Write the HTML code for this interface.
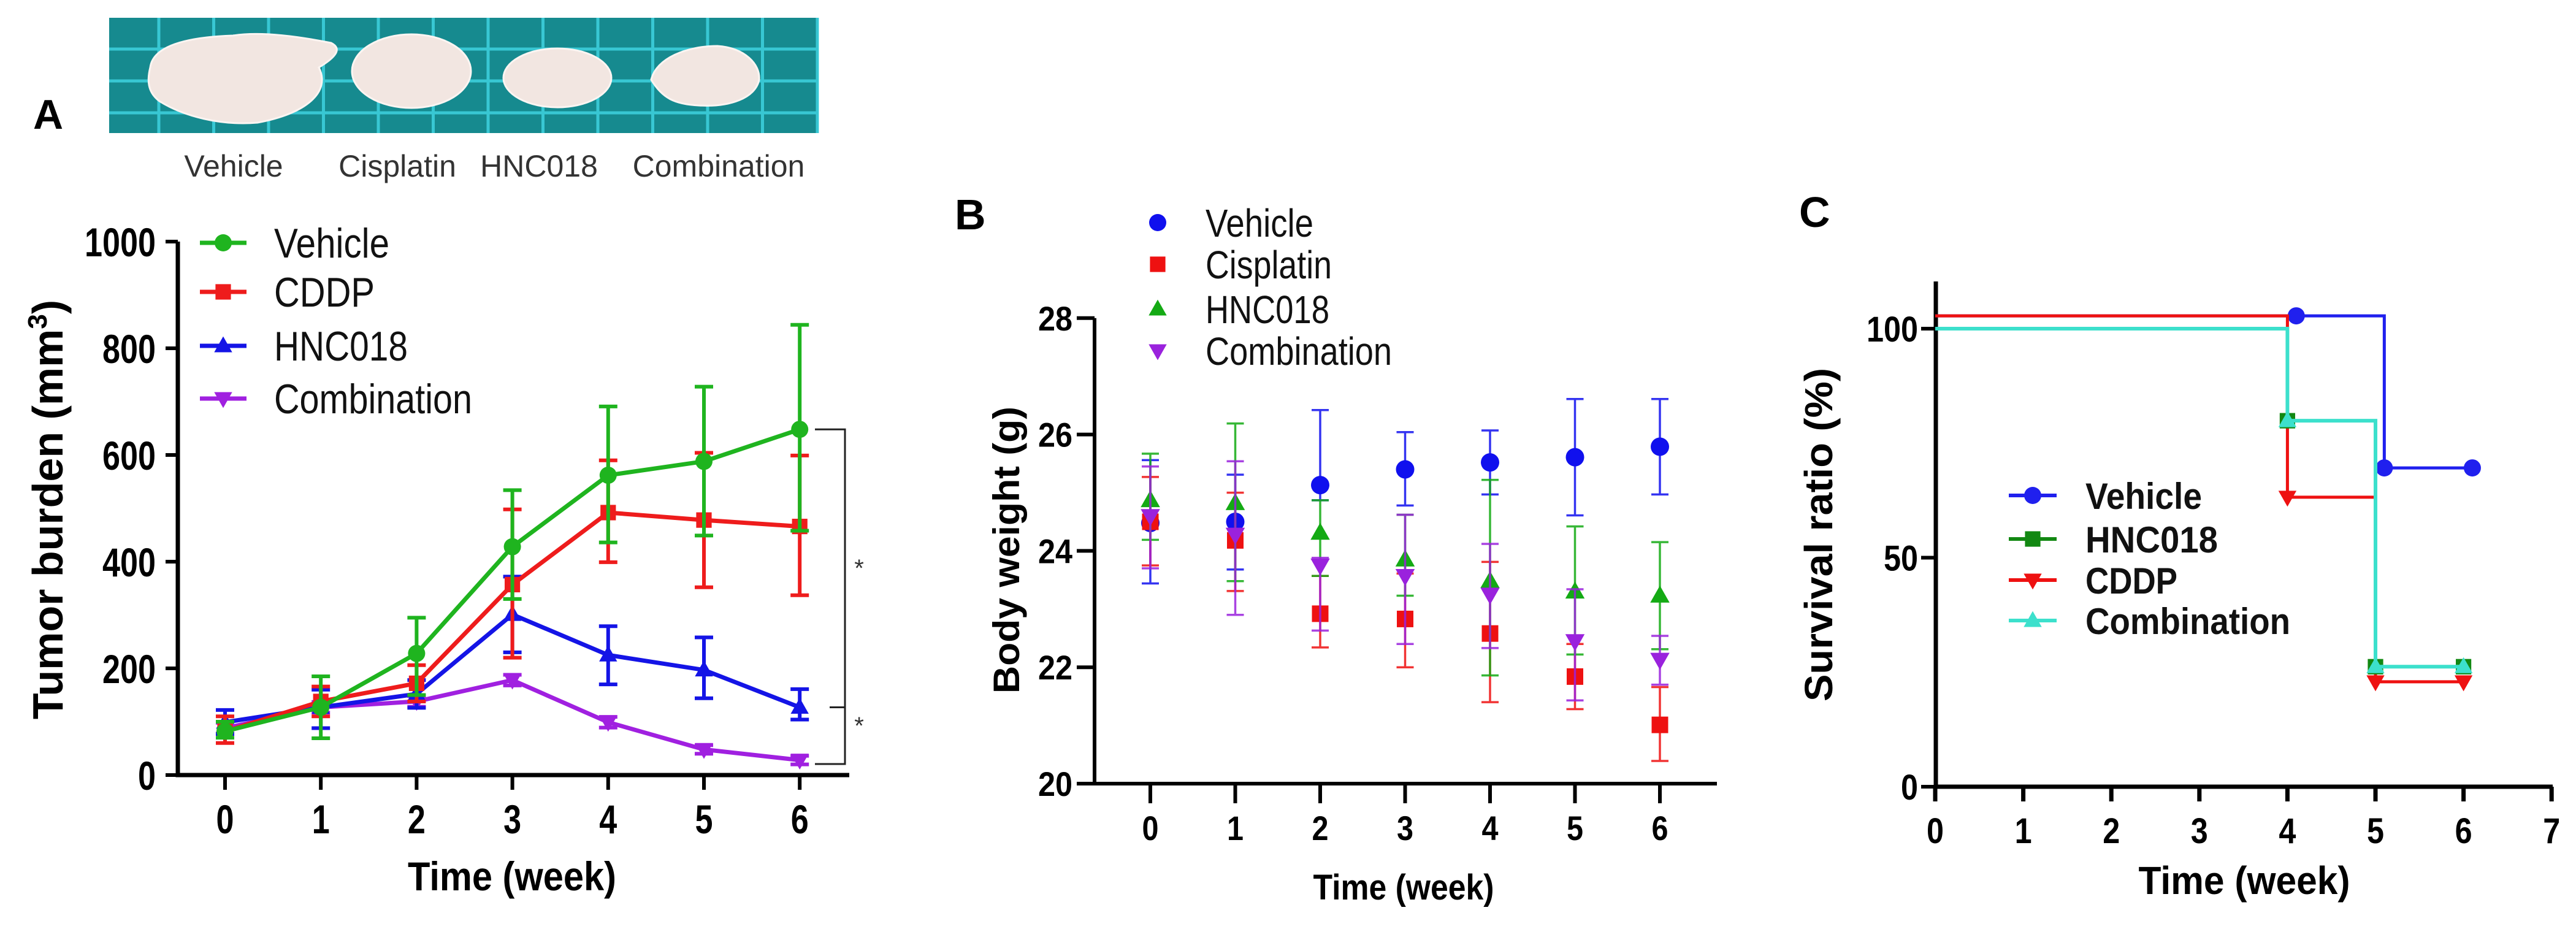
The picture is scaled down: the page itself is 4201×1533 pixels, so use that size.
<!DOCTYPE html>
<html><head><meta charset="utf-8"><style>
html,body{margin:0;padding:0;background:#fff;}
svg{display:block;}
.nb{font-family:"Liberation Sans Narrow","Liberation Sans",sans-serif;font-weight:bold;font-stretch:condensed;}
.nr{font-family:"Liberation Sans Narrow","Liberation Sans",sans-serif;font-stretch:condensed;}
.sb{font-family:"Liberation Sans",sans-serif;font-weight:bold;}
.sr{font-family:"Liberation Sans",sans-serif;}
</style></head><body>
<svg id="fig" width="4201" height="1533" viewBox="0 0 4201 1533" xmlns="http://www.w3.org/2000/svg">
<g id="photo">
<rect x="178" y="29" width="1157" height="188" fill="#168a8f"/>
<g id="grid" stroke="#3fd2e0" stroke-width="5" opacity="0.85"></g>
<g fill="#f2e6e1" stroke="#fbf5f2" stroke-width="3">
<path d="M245,110 C250,70 320,60 380,58 C430,50 500,62 540,70 C560,80 545,95 520,110 C540,150 500,185 420,200 C360,205 300,190 260,165 C240,150 240,130 245,110 Z"/>
<ellipse cx="671" cy="116" rx="97" ry="60"/>
<ellipse cx="909" cy="127" rx="88" ry="48"/>
<path d="M1062,130 C1070,95 1120,75 1170,75 C1215,78 1240,105 1238,130 C1232,160 1190,175 1140,172 C1100,170 1080,160 1062,130 Z"/>
</g>
</g>
<g id="photo-labels" class="sr" font-size="50" fill="#333" text-anchor="middle">
<text x="381" y="288">Vehicle</text>
<text x="648" y="288">Cisplatin</text>
<text x="879" y="288">HNC018</text>
<text x="1172" y="288">Combination</text>
</g>
<text x="54" y="210" class="sb" font-size="68">A</text>
<text x="1557" y="374" class="sb" font-size="70">B</text>
<text x="2934" y="370" class="sb" font-size="70">C</text>
<g id="pa"></g>
<g id="pb"></g>
<g id="pc"></g>
</svg>
<script>
// ---------- Panel A data ----------
const weeksA = [0,1,2,3,4,5,6];
const yTicksA = [0,200,400,600,800,1000];
const vehA = [82,127,228,428,562,588,648];
const vehAlo = [70,69,150,330,436,449,458];
const vehAhi = [100,185,295,534,691,728,844];
const cddpA = [82,138,172,357,492,478,466];
const cddpAlo = [60,110,138,220,399,352,337];
const cddpAhi = [110,166,206,498,590,604,599];
const hncA = [99,127,152,301,225,197,127];
const hncAlo = [77,88,126,230,170,144,104];
const hncAhi = [122,160,178,372,279,258,161];
const combA = [88,127,138,178,99,48,28];
const combAlo = [78,117,128,168,89,40,20];
const combAhi = [98,137,148,188,109,56,36];
// ---------- Panel B data ----------
const weeksB = [0,1,2,3,4,5,6];
const yTicksB = [20,22,24,26,28];
const vehB = [24.48,24.5,25.13,25.4,25.52,25.61,25.79];
const vehBlo = [23.44,23.68,24.87,24.78,24.97,24.61,24.97];
const vehBhi = [25.56,25.31,26.42,26.04,26.07,26.61,26.61];
const cisB = [24.5,24.18,22.92,22.83,22.58,21.84,21.01];
const cisBlo = [23.75,23.31,22.34,22.0,21.4,21.28,20.39];
const cisBhi = [25.27,25.0,23.57,23.61,23.81,22.4,21.66];
const hncB = [24.87,24.82,24.31,23.85,23.48,23.3,23.23];
const hncBlo = [24.19,23.48,23.57,23.23,21.86,22.22,22.31];
const hncBhi = [25.67,26.19,24.87,24.62,25.22,24.42,24.15];
const combB = [24.6,24.28,23.75,23.57,23.25,22.45,22.13];
const combBlo = [23.7,22.9,22.63,22.4,22.33,21.43,21.7];
const combBhi = [25.45,25.54,23.88,24.62,24.12,23.34,22.54];
// ---------- Panel C data ----------
const xTicksC = [0,1,2,3,4,5,6,7];
const yTicksC = [0,50,100];
const vehCt = [0,4.1,5.1,6.1];
const vehCv = [102.8,102.8,69.6,69.6];
const hncCt = [0,4,5,6];
const hncCv = [100,79.9,26.2,26.2];
const cddpCt = [0,4,5,6];
const cddpCv = [102.8,63.2,22.9,22.9];
const combCt = [0,4,5,6];
const combCv = [100,79.9,26.2,26.2];

const NS = "http://www.w3.org/2000/svg";
function mk(parent, tag, attrs){
  const e = document.createElementNS(NS, tag);
  for (const k in attrs) e.setAttribute(k, attrs[k]);
  parent.appendChild(e);
  return e;
}
function marker(g, shape, cx, cy, r, color){
  let e;
  if (shape==='circle') e = mk(g,'circle',{cx:cx,cy:cy,r:r,fill:color});
  else if (shape==='square') e = mk(g,'rect',{x:cx-r*0.9,y:cy-r*0.9,width:r*1.8,height:r*1.8,fill:color});
  else if (shape==='up') e = mk(g,'polygon',{points:`${cx},${cy-r*1.1} ${cx-r*1.05},${cy+r*0.75} ${cx+r*1.05},${cy+r*0.75}`,fill:color});
  else e = mk(g,'polygon',{points:`${cx},${cy+r*1.1} ${cx-r*1.05},${cy-r*0.75} ${cx+r*1.05},${cy-r*0.75}`,fill:color});
  return e;
}
function fitLen(t, perChar){
  const n = String(t.textContent).length;
  t.setAttribute('textLength', n*perChar);
  t.setAttribute('lengthAdjust','spacingAndGlyphs');
}

// photo grid
const grid = document.getElementById('grid');
for (let x = 259; x < 1335; x += 89.5){
  const l = mk(grid,'line',{x1:x,y1:29,x2:x,y2:217});
  
  
}
for (let y = 80; y < 217; y += 52){
  const l = mk(grid,'line',{x1:178,y1:y,x2:1335,y2:y});
  
  
}

// ================= Panel A =================
(function(){
  const g = document.getElementById('pa');
  const xA = v => 367 + v*156.2;
  const yA = v => 1264 - v*0.87;
  const ax = mk(g,'path',{d:`M290,${yA(1000)} V1264 H1385`,stroke:'#000','stroke-width':7,fill:'none'});
  
  
  yTicksA.forEach(t=>{
    const l = mk(g,'line',{x1:270,x2:290,y1:yA(t),y2:yA(t),stroke:'#000','stroke-width':6});
    
    
    const tx = mk(g,'text',{x:254,y:yA(t)+24,'text-anchor':'end','font-size':66,class:'nb'});
    tx.textContent = t;
    fitLen(tx,29);
    
    
  });
  weeksA.forEach(w=>{
    const l = mk(g,'line',{x1:xA(w),x2:xA(w),y1:1264,y2:1288,stroke:'#000','stroke-width':6});
    
    
    const tx = mk(g,'text',{x:xA(w),y:1359,'text-anchor':'middle','font-size':66,class:'nb'});
    tx.textContent = w;
    fitLen(tx,29);
    
    
  });
  const xt = mk(g,'text',{x:835,y:1452,'text-anchor':'middle','font-size':66,class:'nb',textLength:340,lengthAdjust:'spacingAndGlyphs'});
  xt.textContent = 'Time (week)';
  
  
  const yt = mk(g,'text',{x:0,y:0,'text-anchor':'middle','font-size':70,class:'nb',transform:'translate(102,831) rotate(-90)'});
  yt.innerHTML = 'Tumor burden (mm<tspan dy="-26" font-size="44">3</tspan><tspan dy="26">)</tspan>';
  
  

  const series = [
    {n:'combination',c:'#a020e0',s:'down',v:combA,lo:combAlo,hi:combAhi},
    {n:'hnc018',c:'#1414e6',s:'up',v:hncA,lo:hncAlo,hi:hncAhi},
    {n:'cddp',c:'#ee1c1c',s:'square',v:cddpA,lo:cddpAlo,hi:cddpAhi},
    {n:'vehicle',c:'#1fb41f',s:'circle',v:vehA,lo:vehAlo,hi:vehAhi}
  ];
  series.forEach(sr=>{
    const sg = mk(g,'g',{});
    
    
    sr.v.forEach((v,i)=>{
      const x = xA(weeksA[i]);
      const e = mk(sg,'path',{d:`M${x},${yA(sr.lo[i])} V${yA(sr.hi[i])} M${x-15},${yA(sr.lo[i])} h30 M${x-15},${yA(sr.hi[i])} h30`,stroke:sr.c,'stroke-width':6,fill:'none'});
      
      
    });
    const pts = sr.v.map((v,i)=>`${xA(weeksA[i])},${yA(v)}`).join(' ');
    const pl = mk(sg,'polyline',{points:pts,stroke:sr.c,'stroke-width':7,fill:'none'});
    
    
    sr.v.forEach((v,i)=>{
      const m = marker(sg,sr.s,xA(weeksA[i]),yA(v),14,sr.c);
      
      
    });
  });
  const leg = [['vehicle','#1fb41f','circle','Vehicle',396,188],['cddp','#ee1c1c','square','CDDP',476,164],['hnc018','#1414e6','up','HNC018',564,218],['combination','#a020e0','down','Combination',650,323]];
  leg.forEach(l=>{
    const lg = mk(g,'g',{});
    
    
    mk(lg,'line',{x1:326,x2:402,y1:l[4],y2:l[4],stroke:l[1],'stroke-width':7});
    marker(lg,l[2],364,l[4],14,l[1]);
    const t = mk(lg,'text',{x:447,y:l[4]+24,'font-size':68,class:'nr',fill:'#111',textLength:l[5],lengthAdjust:'spacingAndGlyphs'});
    t.textContent = l[3];
  });
  const br = mk(g,'path',{d:`M1329,${yA(vehA[6])} H1378 V1246 H1329 M1353,${yA(hncA[6])} H1378`,stroke:'#222','stroke-width':3,fill:'none'});
  
  
  [[1401,940],[1401,1197]].forEach(p=>{
    const s = mk(g,'text',{x:p[0],y:p[1],'font-size':40,class:'sr','text-anchor':'middle',fill:'#333'});
    s.textContent='*';
    
    
  });
})();

// ================= Panel B =================
(function(){
  const g = document.getElementById('pb');
  const xB = v => 1876 + v*138.5;
  const yB = v => 1278 - (v-20)*94.9;
  const ax = mk(g,'path',{d:`M1785,${yB(28)} V1278 H2800`,stroke:'#000','stroke-width':6,fill:'none'});
  
  
  yTicksB.forEach(t=>{
    const l = mk(g,'line',{x1:1756,x2:1785,y1:yB(t),y2:yB(t),stroke:'#000','stroke-width':6});
    
    
    const tx = mk(g,'text',{x:1749,y:yB(t)+20,'text-anchor':'end','font-size':56,class:'nb'});
    tx.textContent = t;
    fitLen(tx,28);
    
    
  });
  weeksB.forEach(w=>{
    const l = mk(g,'line',{x1:xB(w),x2:xB(w),y1:1278,y2:1310,stroke:'#000','stroke-width':6});
    
    
    const tx = mk(g,'text',{x:xB(w),y:1370,'text-anchor':'middle','font-size':56,class:'nb'});
    tx.textContent = w;
    fitLen(tx,27);
    
    
  });
  const xt = mk(g,'text',{x:2289,y:1467,'text-anchor':'middle','font-size':58,class:'nb',textLength:295,lengthAdjust:'spacingAndGlyphs'});
  xt.textContent = 'Time (week)';
  
  
  const yt = mk(g,'text',{x:0,y:0,'text-anchor':'middle','font-size':60,class:'nb',textLength:468,lengthAdjust:'spacingAndGlyphs',transform:'translate(1662,897) rotate(-90)'});
  yt.textContent = 'Body weight (g)';
  
  

  const series = [
    {n:'vehicle',c:'#1010ee',s:'circle',v:vehB,lo:vehBlo,hi:vehBhi},
    {n:'cisplatin',c:'#ee1111',s:'square',v:cisB,lo:cisBlo,hi:cisBhi},
    {n:'hnc018',c:'#14aa14',s:'up',v:hncB,lo:hncBlo,hi:hncBhi},
    {n:'combination',c:'#9a22dd',s:'down',v:combB,lo:combBlo,hi:combBhi}
  ];
  series.forEach(sr=>{
    const sg = mk(g,'g',{});
    
    
    sr.v.forEach((v,i)=>{
      const x = xB(weeksB[i]);
      const e = mk(sg,'path',{d:`M${x},${yB(sr.lo[i])} V${yB(sr.hi[i])} M${x-14},${yB(sr.lo[i])} h28 M${x-14},${yB(sr.hi[i])} h28`,stroke:sr.c,'stroke-width':3.5,fill:'none',opacity:0.85});
      
      
      const m = marker(sg,sr.s,x,yB(v),15,sr.c);
      
      
    });
  });
  const leg = [['vehicle','#1010ee','circle','Vehicle',363,176],['cisplatin','#ee1111','square','Cisplatin',431,206],['hnc018','#14aa14','up','HNC018',504,202],['combination','#9a22dd','down','Combination',572,304]];
  leg.forEach(l=>{
    const lg = mk(g,'g',{});
    
    
    marker(lg,l[2],1888,l[4],14,l[1]);
    const t = mk(lg,'text',{x:1966,y:l[4]+23,'font-size':64,class:'nr',fill:'#111',textLength:l[5],lengthAdjust:'spacingAndGlyphs'});
    t.textContent = l[3];
  });
})();

// ================= Panel C =================
(function(){
  const g = document.getElementById('pc');
  const xC = v => 3156 + v*143.6;
  const yC = v => 1283 - v*7.47;
  const ax = mk(g,'path',{d:`M3157,459 V1283 H4163`,stroke:'#000','stroke-width':7,fill:'none'});
  
  
  yTicksC.forEach(t=>{
    const l = mk(g,'line',{x1:3133,x2:3157,y1:yC(t),y2:yC(t),stroke:'#000','stroke-width':6});
    
    
    const tx = mk(g,'text',{x:3128,y:yC(t)+21,'text-anchor':'end','font-size':58,class:'nb'});
    tx.textContent = t;
    fitLen(tx,28);
    
    
  });
  xTicksC.forEach(w=>{
    const l = mk(g,'line',{x1:xC(w),x2:xC(w),y1:1283,y2:1307,stroke:'#000','stroke-width':7});
    
    
    const tx = mk(g,'text',{x:xC(w),y:1375,'text-anchor':'middle','font-size':58,class:'nb'});
    tx.textContent = w;
    fitLen(tx,28);
    
    
  });
  const xt = mk(g,'text',{x:3660,y:1458,'text-anchor':'middle','font-size':64,class:'nb',textLength:345,lengthAdjust:'spacingAndGlyphs'});
  xt.textContent = 'Time (week)';
  
  
  const yt = mk(g,'text',{x:0,y:0,'text-anchor':'middle','font-size':64,class:'sb',textLength:544,lengthAdjust:'spacingAndGlyphs',transform:'translate(2988,872) rotate(-90)'});
  yt.textContent = 'Survival ratio (%)';
  
  

  function stepPath(ts, vs){
    let d = `M${xC(ts[0])},${yC(vs[0])}`;
    for (let i=1;i<ts.length;i++){
      d += ` H${xC(ts[i])} V${yC(vs[i])}`;
    }
    return d;
  }
  const series = [
    {n:'vehicle',c:'#2020ee',s:'circle',t:vehCt,v:vehCv},
    {n:'cddp',c:'#ee1111',s:'down',t:cddpCt,v:cddpCv},
    {n:'hnc018',c:'#128812',s:'square',t:hncCt,v:hncCv},
    {n:'combination',c:'#3ce0cc',s:'up',t:combCt,v:combCv}
  ];
  series.forEach(sr=>{
    const sg = mk(g,'g',{});
    
    
    const p = mk(sg,'path',{d:stepPath(sr.t,sr.v),stroke:sr.c,'stroke-width':sr.n==='combination'?6:5,fill:'none'});
    
    
    for (let i=1;i<sr.t.length;i++){
      const m = marker(sg,sr.s,xC(sr.t[i]),yC(sr.v[i]),14,sr.c);
      
      
    }
  });
  const leg = [['vehicle','#2020ee','circle','Vehicle',808,190],['hnc018','#128812','square','HNC018',879,216],['cddp','#ee1111','down','CDDP',946,150],['combination','#3ce0cc','up','Combination',1012,334]];
  leg.forEach(l=>{
    const lg = mk(g,'g',{});
    
    
    mk(lg,'line',{x1:3276,x2:3354,y1:l[4],y2:l[4],stroke:l[1],'stroke-width':6});
    marker(lg,l[2],3315,l[4],14,l[1]);
    const t = mk(lg,'text',{x:3401,y:l[4]+22,'font-size':60,class:'sb',fill:'#111',textLength:l[5],lengthAdjust:'spacingAndGlyphs'});
    t.textContent = l[3];
  });
})();
</script>
</body></html>
